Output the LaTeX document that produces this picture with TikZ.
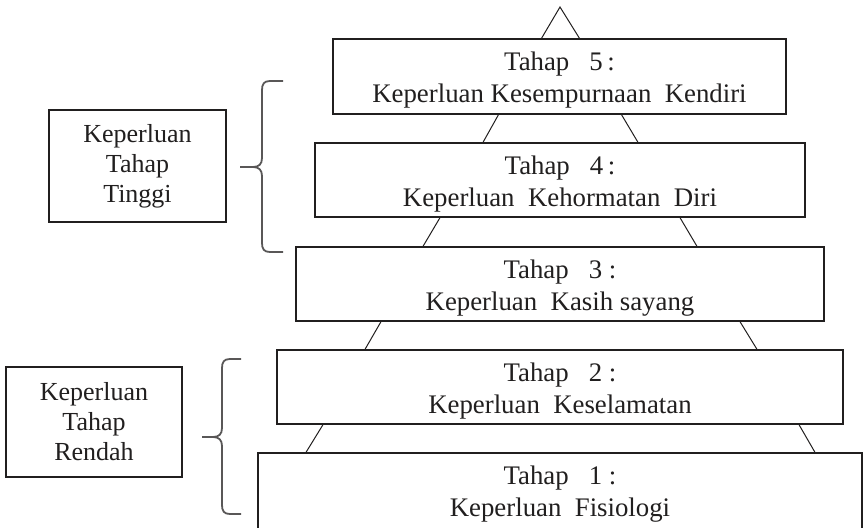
\documentclass[tikz,border=0pt]{standalone}
\usepackage{fontspec}
\setmainfont{Liberation Serif}
\usetikzlibrary{calc}
\definecolor{ink}{rgb}{0.13,0.12,0.12}
\newcommand{\stk}[2]{\raisebox{#1}[\height][\depth]{\begin{tabular}{@{}c@{}}#2\end{tabular}}}
\begin{document}
\begin{tikzpicture}[x=0.5pt,y=-0.5pt,
  every node/.style={text=ink, inner sep=0pt},
  stage/.style={draw=ink, line width=0.65pt, fill=white, minimum height=37pt, font=\fontsize{13.4}{16}\selectfont},
  sidebox/.style={draw=ink, line width=1.1pt, fill=white, align=center, font=\fontsize{13}{15}\selectfont},
  tri/.style={draw=ink, line width=0.5pt},
  curly/.style={draw=ink!75, line width=0.9pt}]
\useasboundingbox (0,0) rectangle (864,527);
\clip (0,0) rectangle (864,527);

% pyramid stages
\node[stage, minimum width=226.5pt, minimum height=37.5pt] (b5) at (559.5,76.5)
  {\stk{-1.8pt}{Tahap\hspace{0.75em}5\,:\\Keperluan Kesempurnaan\ \ Kendiri}};
\node[stage, minimum width=245pt] (b4) at (560,180)
  {\stk{-2pt}{Tahap\hspace{0.75em}4\,:\\Keperluan\ \ Kehormatan\ \ Diri}};
\node[stage, minimum width=264pt] (b3) at (560,284)
  {\stk{-2pt}{Tahap\hspace{0.75em}3 :\\Keperluan\ \ Kasih sayang}};
\node[stage, minimum width=283pt] (b2) at (560,387)
  {\stk{-2pt}{Tahap\hspace{0.75em}2 :\\Keperluan\ \ Keselamatan}};
\node[stage, minimum width=302pt, minimum height=43.5pt] (b1) at (560,496.5)
  {\stk{1.2pt}{Tahap\hspace{0.75em}1 :\\Keperluan\ \ Fisiologi}};

% triangle outline between stages
\coordinate (apex) at (560,7);
\draw[tri] ($(b5.north)+(-18,0)$) -- (apex) -- ($(b5.north)+(20,0)$);
\draw[tri] ($(b5.south)+(-61,0)$) -- ($(b4.north)+(-77,0)$);
\draw[tri] ($(b5.south)+(62,0)$) -- ($(b4.north)+(78,0)$);
\draw[tri] ($(b4.south)+(-120,0)$) -- ($(b3.north)+(-137,0)$);
\draw[tri] ($(b4.south)+(120,0)$) -- ($(b3.north)+(137,0)$);
\draw[tri] ($(b3.south)+(-179,0)$) -- ($(b2.north)+(-195,0)$);
\draw[tri] ($(b3.south)+(180,0)$) -- ($(b2.north)+(197,0)$);
\draw[tri] ($(b2.south)+(-237,0)$) -- ($(b1.north)+(-254,0)$);
\draw[tri] ($(b2.south)+(239,0)$) -- ($(b1.north)+(255,0)$);

% side labels
\node[sidebox, minimum width=88.5pt, minimum height=56pt] (hi) at (137.5,166) {Keperluan\\Tahap\\Tinggi};
\node[sidebox, minimum width=88pt, minimum height=55pt] (lo) at (94,422) {Keperluan\\Tahap\\Rendah};

% braces
\draw[curly] (283,81) -- (270,81) .. controls (264,81) and (262,84) .. (262,90) -- (262,158)
  .. controls (262,164) and (259,167) .. (253,167) -- (240,167);
\draw[curly] (253,167) .. controls (259,167) and (262,170) .. (262,176) -- (262,243)
  .. controls (262,249) and (264,252) .. (270,252) -- (283,252);
\draw[curly] (241,359) -- (230,359) .. controls (224,359) and (222,362) .. (222,368) -- (222,428)
  .. controls (222,434) and (219,437) .. (213,437) -- (202,437);
\draw[curly] (213,437) .. controls (219,437) and (222,440) .. (222,446) -- (222,505)
  .. controls (222,511) and (224,514) .. (230,514) -- (241,514);
\end{tikzpicture}
\end{document}
